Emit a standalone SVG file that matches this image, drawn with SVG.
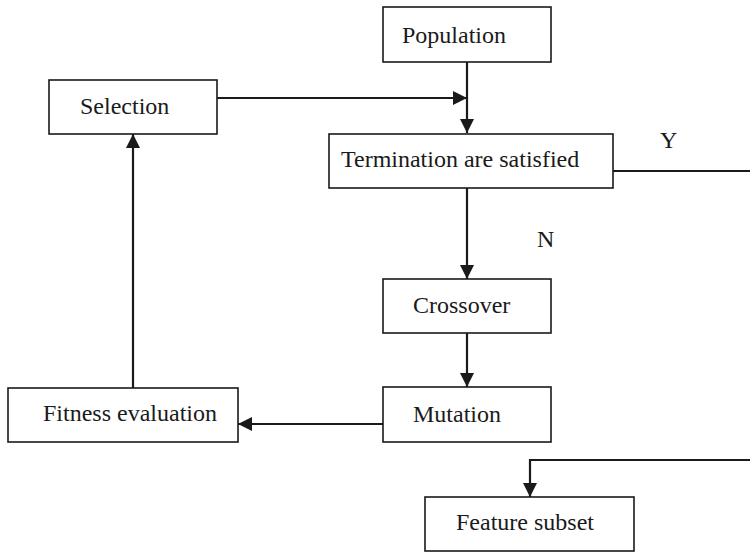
<svg xmlns="http://www.w3.org/2000/svg" width="750" height="552" viewBox="0 0 750 552">
<style>
.box{fill:#fff;stroke:#1a1a1a;stroke-width:1.6}
.t{font-family:"Liberation Serif","Times New Roman",serif;font-size:24px;fill:#1a1a1a}
.c{fill:none;stroke:#1a1a1a;stroke-width:2.2}
</style>
<defs>
<marker id="ah" markerWidth="14" markerHeight="14" refX="14" refY="7" orient="auto" markerUnits="userSpaceOnUse">
<path d="M0,0 L14,7 L0,14 Z" fill="#1a1a1a"/>
</marker>
</defs>
<rect width="750" height="552" fill="#fff"/>
<g id="connectors">
<path class="c" d="M467,62 V133" marker-end="url(#ah)"/>
<path class="c" d="M217,98 H467" marker-end="url(#ah)"/>
<path class="c" d="M613,171 H750"/>
<path class="c" d="M467,188 V279" marker-end="url(#ah)"/>
<path class="c" d="M467,333 V387" marker-end="url(#ah)"/>
<path class="c" d="M383,424 H238" marker-end="url(#ah)"/>
<path class="c" d="M133,388 V134" marker-end="url(#ah)"/>
<path class="c" d="M750,460 H530 V497" marker-end="url(#ah)"/>
<text class="t" x="660" y="148">Y</text>
<text class="t" x="537" y="247">N</text>
</g>
<g id="population"><rect class="box" x="383" y="7" width="168" height="55"/><text class="t" x="402" y="43">Population</text></g>
<g id="selection"><rect class="box" x="49" y="80" width="168" height="54"/><text class="t" x="80" y="114">Selection</text></g>
<g id="termination"><rect class="box" x="329" y="134" width="284" height="54"/><text class="t" x="341" y="167">Termination are satisfied</text></g>
<g id="crossover"><rect class="box" x="383" y="279" width="168" height="54"/><text class="t" x="413" y="313">Crossover</text></g>
<g id="mutation"><rect class="box" x="383" y="387" width="168" height="55"/><text class="t" x="413" y="422">Mutation</text></g>
<g id="fitness"><rect class="box" x="8" y="388" width="230" height="54"/><text class="t" x="43" y="421">Fitness evaluation</text></g>
<g id="feature"><rect class="box" x="425" y="497" width="209" height="54"/><text class="t" x="456" y="530">Feature subset</text></g>
</svg>
